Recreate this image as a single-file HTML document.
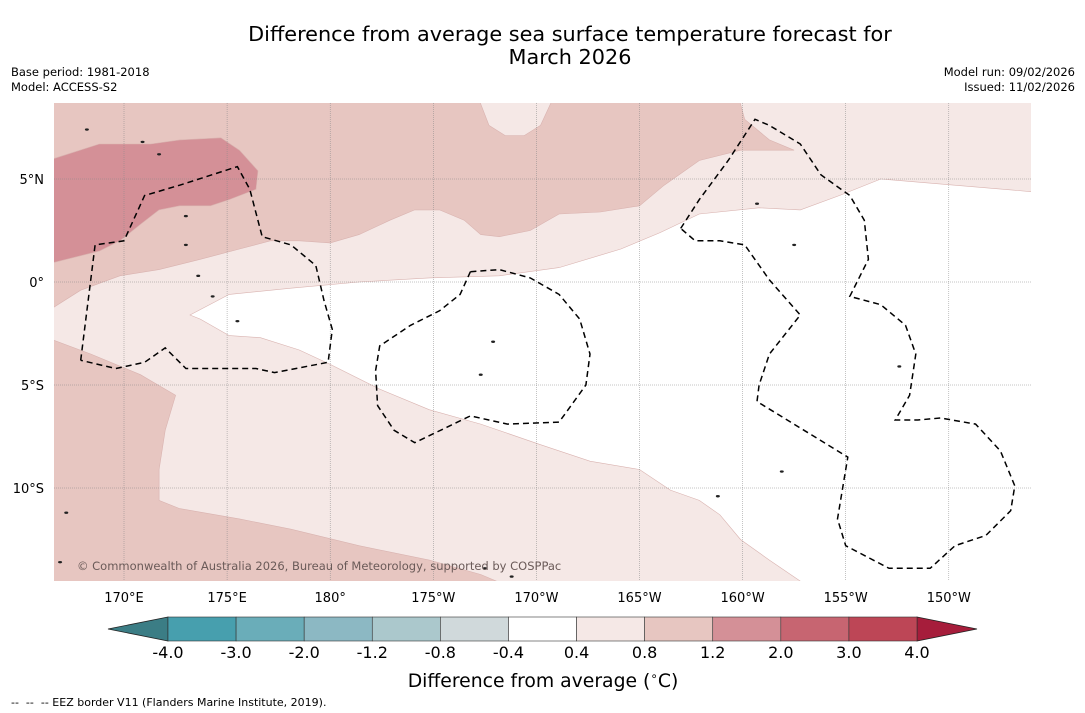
<!DOCTYPE html>
<html><head><meta charset="utf-8"><style>
body{margin:0;background:#fff;width:1085px;height:713px;overflow:hidden;font-family:"Liberation Sans","DejaVu Sans",sans-serif}
svg{position:absolute;left:0;top:0}
text{font-family:"DejaVu Sans","Liberation Sans",sans-serif}
</style></head><body>
<svg id="s" width="1085" height="713">
<text x="570" y="41" font-size="20.8" text-anchor="middle">Difference from average sea surface temperature forecast for</text>
<text x="570" y="64" font-size="20.8" text-anchor="middle">March 2026</text>
<text x="11" y="76" font-size="11.5">Base period: 1981-2018</text>
<text x="11" y="91" font-size="11.5">Model: ACCESS-S2</text>
<text x="1075" y="76" font-size="11.5" text-anchor="end">Model run: 09/02/2026</text>
<text x="1075" y="91" font-size="11.5" text-anchor="end">Issued: 11/02/2026</text>
<defs><clipPath id="mc"><rect x="54" y="103" width="977" height="478"/></clipPath></defs>
<g id="map" clip-path="url(#mc)"></g>
<g id="axes"></g>
<g id="cbar"></g>
<text x="543" y="687" font-size="18.8" text-anchor="middle">Difference from average (<tspan font-size="12" dy="-7">∘</tspan><tspan dy="7">C)</tspan></text>
<text x="11" y="706" font-size="11" xml:space="preserve">--  --  -- EEZ border V11 (Flanders Marine Institute, 2019).</text>
</svg>
<script>
const lonTicks=[170,175,180,185,190,195,200,205,210];
const lonLabels=["170°E","175°E","180°","175°W","170°W","165°W","160°W","155°W","150°W"];
const latTicks=[5,0,-5,-10];
const latLabels=["5°N","0°","5°S","10°S"];
const cbLevels=[-4.0,-3.0,-2.0,-1.2,-0.8,-0.4,0.4,0.8,1.2,2.0,3.0,4.0];
const cbLabels=["-4.0","-3.0","-2.0","-1.2","-0.8","-0.4","0.4","0.8","1.2","2.0","3.0","4.0"];
const cbColors=["#479fae","#6aadb9","#8cb8c3","#abc8cc","#d0d9db","#ffffff","#f5e8e6","#e7c6c1","#d49097","#c76571","#bd4656"];
const cbLow="#3b7d85", cbHigh="#a61d3b";
const lightBlob=[[187.2,8.9],[187.7,7.6],[188.5,7.1],[189.4,7.1],[190.2,7.6],[190.8,8.9]];
const medUpper=[[166,9],[199.8,9],[200.1,7.9],[201.3,6.9],[202.5,6.4],[199.9,6.4],[197.9,5.9],[196.2,4.7],[195.0,3.7],[193.1,3.4],[191.1,3.3],[189.7,2.5],[188.2,2.2],[187.3,2.3],[186.5,3.0],[185.3,3.5],[184.1,3.5],[182.9,3.0],[181.4,2.3],[180.0,1.9],[178.5,2.0],[177.1,2.0],[175.6,1.6],[173.7,1.1],[171.7,0.6],[169.8,0.3],[167.9,-0.4],[166,-1.6]];
const darkPatch=[[166,5.8],[168.8,6.7],[171.3,6.7],[172.7,6.9],[174.7,7.0],[175.6,6.4],[176.5,5.4],[176.4,4.5],[175.1,4.0],[174.2,3.7],[172.7,3.7],[171.7,3.5],[170.8,2.8],[169.8,2.0],[168.8,1.5],[166,0.8]];
const medLower=[[166,-2.6],[168.4,-3.5],[170.8,-4.5],[172.5,-5.5],[172.0,-7.2],[171.7,-9.1],[171.7,-10.6],[172.7,-11.0],[175.6,-11.5],[178.1,-12.0],[181.4,-12.8],[184.8,-13.5],[187.3,-14.2],[189.2,-15],[166,-15]];
const whiteArea=[[173.2,-1.6],[175.1,-0.6],[178.1,-0.3],[181.4,0],[184.8,0.2],[188.2,0.3],[191.1,0.7],[194.1,1.6],[196.0,2.4],[197.9,3.3],[200.8,3.6],[202.8,3.5],[204.7,4.2],[206.7,5.0],[215,4.3],[215,-15],[203.5,-15],[201.3,-13.5],[199.9,-12.5],[198.9,-11.3],[197.9,-10.6],[196.5,-10.1],[195.0,-9.1],[192.6,-8.7],[190.2,-7.9],[187.3,-6.9],[184.8,-6.2],[182.4,-5.2],[180.0,-4.0],[178.5,-3.3],[176.6,-2.7],[175.1,-2.6],[173.7,-1.8]];
const eezGilbert=[[167.9,-3.8],[168.6,1.8],[170.0,2.0],[171.0,4.2],[172.7,4.7],[175.5,5.6],[176.1,4.5],[176.7,2.2],[178.1,1.8],[179.3,0.8],[179.7,-0.9],[180.1,-2.3],[179.9,-3.9],[177.3,-4.4],[176.4,-4.2],[173.0,-4.2],[172.0,-3.2],[171.0,-3.9],[169.6,-4.2],[167.9,-3.8]];
const eezPhoenix=[[186.8,0.5],[188.2,0.6],[189.7,0.2],[191.1,-0.6],[192.1,-1.8],[192.6,-3.5],[192.4,-5.0],[191.1,-6.8],[188.6,-6.9],[186.8,-6.5],[184.1,-7.8],[183.1,-7.2],[182.3,-6.0],[182.2,-4.3],[182.4,-3.1],[183.9,-2.1],[185.3,-1.4],[186.3,-0.6],[186.8,0.5]];
const eezLine=[[197.0,2.6],[197.9,4.0],[199.3,5.9],[200.6,7.9],[201.3,7.6],[202.8,6.7],[203.8,5.2],[205.2,4.2],[205.9,3.0],[206.1,1.1],[205.2,-0.7],[206.7,-1.1],[207.9,-2.1],[208.4,-3.5],[208.1,-5.5],[207.4,-6.7],[208.5,-6.7],[209.6,-6.6],[211.3,-6.9],[212.5,-8.2],[213.2,-9.9],[213.0,-11.1],[211.8,-12.3],[210.3,-12.8],[209.1,-13.9],[207.1,-13.9],[205.0,-12.8],[204.6,-11.5],[205.1,-8.5],[200.7,-5.8],[200.8,-5.0],[201.3,-3.5],[202.8,-1.6],[201.3,0.1],[200.1,1.8],[198.9,2.0],[197.7,2.0],[197.0,2.6]];
const islands=[[168.2,7.4],[170.9,6.8],[171.7,6.2],[173.0,3.2],[173.0,1.8],[173.6,0.3],[174.3,-0.7],[175.5,-1.9],[187.9,-2.9],[187.3,-4.5],[200.7,3.8],[202.5,1.8],[207.6,-4.1],[201.9,-9.2],[198.8,-10.4],[187.5,-13.9],[167.2,-11.2],[166.9,-13.6],[188.8,-14.3]];
const ns="http://www.w3.org/2000/svg";
const X=lon=>124+(lon-170)*20.62, Y=lat=>282-lat*20.6;
function mk(t,a,p){const e=document.createElementNS(ns,t);for(const k in a)e.setAttribute(k,a[k]);p.appendChild(e);return e;}
const map=document.getElementById('map'),axes=document.getElementById('axes'),cb=document.getElementById('cbar');
const pts=a=>a.map(p=>X(p[0]).toFixed(1)+','+Y(p[1]).toFixed(1)).join(' ');
let bg=mk('rect',{x:54,y:103,width:977,height:478,fill:cbColors[6]},map);


function poly(a,fill,name){const e=mk('polygon',{points:pts(a),fill:fill,stroke:'#d9b3b0','stroke-width':0.6},map);

}
poly(whiteArea,'#ffffff','anomaly-neutral-region');
poly(medUpper,cbColors[7],'anomaly-0.8-1.2-north-region');
poly(medLower,cbColors[7],'anomaly-0.8-1.2-southwest-region');
poly(lightBlob,cbColors[6],'anomaly-0.4-0.8-north-patch');
poly(darkPatch,cbColors[8],'anomaly-1.2-2.0-region');
islands.forEach(p=>{const e=mk('ellipse',{cx:X(p[0]),cy:Y(p[1]),rx:2,ry:1.2,fill:'#222'},map);

});
lonTicks.forEach(l=>{const e=mk('line',{x1:X(l),x2:X(l),y1:103,y2:581,stroke:'#888','stroke-width':0.5,'stroke-dasharray':'1,1'},map);

});
latTicks.forEach(l=>{const e=mk('line',{x1:54,x2:1031,y1:Y(l),y2:Y(l),stroke:'#888','stroke-width':0.5,'stroke-dasharray':'1,1'},map);

});
[[eezGilbert,'eez-gilbert-islands'],[eezPhoenix,'eez-phoenix-islands'],[eezLine,'eez-line-islands']].forEach(([a,n])=>{
const e=mk('polyline',{points:pts(a),fill:'none',stroke:'#000','stroke-width':1.5,'stroke-dasharray':'6,4'},map);

});
const cr=mk('text',{x:77,y:570,'font-size':11.5,fill:'#6a5a58'},map);cr.textContent="© Commonwealth of Australia 2026, Bureau of Meteorology, supported by COSPPac";


lonTicks.forEach((l,i)=>{const t=mk('text',{x:X(l),y:602,'font-size':13,'text-anchor':'middle'},axes);t.textContent=lonLabels[i];

});
latTicks.forEach((l,i)=>{const t=mk('text',{x:44,y:Y(l)+5,'font-size':13,'text-anchor':'end'},axes);t.textContent=latLabels[i];

});
const cx0=168,cx1=917,cy0=617,cy1=641,n=cbLevels.length-1,w=(cx1-cx0)/n,CX=i=>cx0+i*w;
let lt=mk('polygon',{points:`${cx0},${cy0} 108,${(cy0+cy1)/2} ${cx0},${cy1}`,fill:cbLow,stroke:'#222','stroke-width':0.8},cb);


let rt=mk('polygon',{points:`${cx1},${cy0} 977,${(cy0+cy1)/2} ${cx1},${cy1}`,fill:cbHigh,stroke:'#222','stroke-width':0.8},cb);


cbColors.forEach((c,i)=>{const r=mk('rect',{x:CX(i),y:cy0,width:w,height:cy1-cy0,fill:c,stroke:'#333','stroke-width':0.6},cb);

});
cbLabels.forEach((s,i)=>{const t=mk('text',{x:CX(i),y:658,'font-size':16,'text-anchor':'middle'},cb);t.textContent=s;

});
</script>
</body></html>
